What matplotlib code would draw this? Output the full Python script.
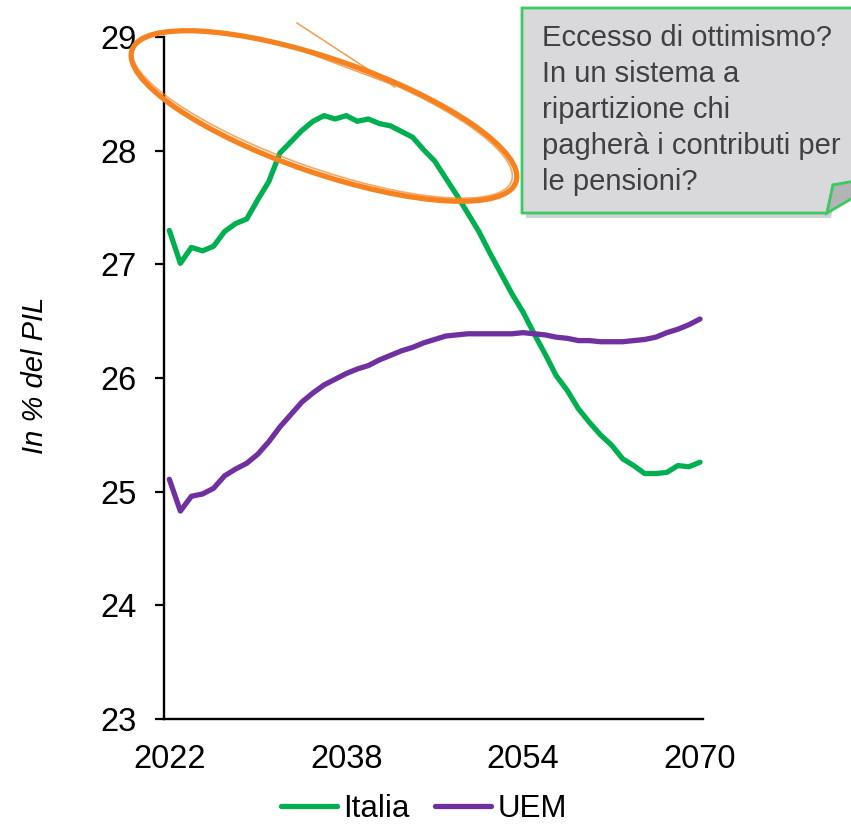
import matplotlib
matplotlib.use('Agg')
import matplotlib.pyplot as plt
from matplotlib.patches import Ellipse, Polygon
from matplotlib.lines import Line2D
from matplotlib.transforms import Affine2D

plt.rcParams['font.family'] = ['Liberation Sans', 'DejaVu Sans']

years = list(range(2022, 2071))
italia = [27.30, 27.01, 27.15, 27.12, 27.16, 27.29, 27.36, 27.40, 27.57, 27.73,
          27.98, 28.08, 28.18, 28.26, 28.31, 28.28, 28.31, 28.26, 28.28, 28.24,
          28.22, 28.17, 28.12, 28.01, 27.91, 27.76, 27.61, 27.45, 27.29, 27.10,
          26.92, 26.74, 26.58, 26.39, 26.21, 26.02, 25.89, 25.73, 25.61, 25.50,
          25.41, 25.29, 25.23, 25.16, 25.16, 25.17, 25.23, 25.22, 25.26]
uem = [25.11, 24.83, 24.96, 24.98, 25.03, 25.14, 25.20, 25.25, 25.33, 25.44,
       25.57, 25.68, 25.79, 25.87, 25.94, 25.99, 26.04, 26.08, 26.11, 26.16,
       26.20, 26.24, 26.27, 26.31, 26.34, 26.37, 26.38, 26.39, 26.39, 26.39,
       26.39, 26.39, 26.40, 26.39, 26.38, 26.36, 26.35, 26.33, 26.33, 26.32,
       26.32, 26.32, 26.33, 26.34, 26.36, 26.40, 26.43, 26.47, 26.52]
x_ticks = [2022, 2038, 2054, 2070]
y_ticks = [23, 24, 25, 26, 27, 28, 29]
note = ("Eccesso di ottimismo?\nIn un sistema a\nripartizione chi\n"
        "pagherà i contributi per\nle pensioni?")

W, H = 851, 827
fig = plt.figure(figsize=(W / 100, H / 100), dpi=100)
ax = fig.add_axes([164 / W, 1 - 719 / H, 539 / W, (719 - 37.2) / H])

ax.plot(years, italia, color='#00b050', lw=3.8, label='Italia',
        solid_capstyle='round')
ax.plot(years, uem, color='#7030a0', lw=3.8, label='UEM',
        solid_capstyle='round')

ax.set_xlim(2021.52, 2070.27)
ax.set_ylim(23, 29)
ax.set_xticks(x_ticks)
ax.set_yticks(y_ticks)
ax.tick_params(axis='x', length=0, pad=18, labelsize=23.5)
ax.tick_params(axis='y', length=6.5, width=1.6, pad=13, labelsize=23.5)
for s in ['top', 'right']:
    ax.spines[s].set_visible(False)
for s in ['left', 'bottom']:
    ax.spines[s].set_linewidth(1.7)

fig.text(35 / W, 1 - 375 / H, 'In % del PIL', rotation=90, style='italic',
         fontsize=21, ha='center', va='center')

fig.legend(loc='center', bbox_to_anchor=(424 / W, 1 - 809 / H), ncol=2,
           frameon=False, fontsize=22.5, handlelength=1.8, handletextpad=0.2,
           columnspacing=0.8, borderpad=0.1)

# pixel coordinates, origin at top-left
px = Affine2D().scale(1 / W, -1 / H).translate(0, 1) + fig.transFigure

# callout box with shadow and folded corner
box = [(522, 8), (870, 8), (870, 180), (833, 185), (827, 213), (522, 213)]
shadow = [(x + 4, y + 5) for x, y in box]
fig.add_artist(Polygon(shadow, closed=True, transform=px, fc='#9a9a9a',
                       ec='none', alpha=0.45, zorder=5))
fig.add_artist(Polygon(box, closed=True, transform=px, fc='#d9d9dc',
                       ec='#3cc863', lw=2, zorder=6))
fig.add_artist(Polygon([(827, 213), (833, 185), (870, 178), (870, 188)],
                       closed=True, transform=px, fc='#b4b4b6',
                       ec='#3cc863', lw=2, zorder=7))
fig.text(542 / W, 1 - 24 / H, note, fontsize=21, color='#404040',
         ha='left', va='top', linespacing=1.36, zorder=8)

# hand-drawn orange ellipse
orange = '#f5821f'
fig.add_artist(Ellipse((324, 116), 406, 114, angle=19, transform=px,
                       fill=False, ec=orange, lw=3.8, zorder=9))
fig.add_artist(Ellipse((322, 114), 402, 108, angle=19.5, transform=px,
                       fill=False, ec=orange, lw=1.2, alpha=0.7, zorder=9))
fig.add_artist(Line2D([297, 395], [23, 87], transform=px, color=orange,
                      lw=1.1, alpha=0.8, zorder=9))
fig.add_artist(Line2D([300, 388], [50, 83], transform=px, color=orange,
                      lw=1.0, alpha=0.8, zorder=9))

fig.savefig('out.png', dpi=100)
